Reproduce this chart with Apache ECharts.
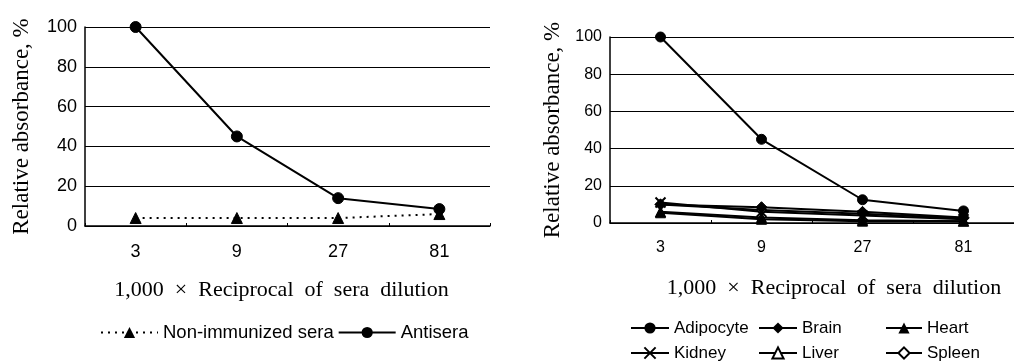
<!DOCTYPE html>
<html><head><meta charset="utf-8">
<script src="https://cdn.jsdelivr.net/npm/echarts@6/dist/echarts.min.js"></script>
<style>html,body{margin:0;padding:0;background:#fff}#c{width:1014px;height:361px}</style>
</head><body><div id="c"></div>
<script>
// Data
const categories = ['3', '9', '27', '81'];
const nonImmunized = [4, 4, 4, 6];
const antisera = [100, 45, 14, 8.5];
const adipocyte = [100, 45, 12.5, 6.5];
const brain = [10, 8.5, 6, 3];
const heart = [5.5, 2, 1, 1];
const kidney = [11, 6, 4, 2];
const liver = [6, 3, 1.5, 1];
const spleen = [10, 7, 5, 2.5];
const yTitle = 'Relative absorbance, %';
const xTitle = '1,000  \u00d7  Reciprocal  of  sera  dilution';

const sans = 'Liberation Sans, Arial, sans-serif';
const serif = 'Liberation Serif, Times New Roman, serif';
const black = '#000';

function yAx(gi, fs, gap) {
  return {
    gridIndex: gi, type: 'value', min: 0, max: 100, interval: 20,
    name: yTitle, nameLocation: 'middle', nameGap: gap,
    nameTextStyle: {fontFamily: serif, fontSize: 23, color: black},
    axisLine: {show: true, lineStyle: {color: black, width: 1.5}},
    axisTick: {show: false},
    axisLabel: {color: black, fontSize: fs, fontFamily: sans, margin: 8},
    splitLine: {show: true, lineStyle: {color: black, width: 1}}
  };
}
function xAx(gi, fs, gap, pad) {
  return {
    gridIndex: gi, type: 'category', data: categories, boundaryGap: true,
    name: xTitle, nameLocation: 'middle', nameGap: gap,
    nameTextStyle: {fontFamily: serif, fontSize: 22, color: black, padding: pad},
    axisLine: {show: true, lineStyle: {color: black, width: 1.5}},
    axisTick: {show: true, inside: true, length: 3, lineStyle: {color: black}},
    axisLabel: {color: black, fontSize: fs, fontFamily: sans, margin: 17}
  };
}
function ser(name, data, gi, symbol, size, extra) {
  return Object.assign({
    name: name, type: 'line', data: data, xAxisIndex: gi, yAxisIndex: gi,
    symbol: symbol, symbolSize: size,
    lineStyle: {color: black, width: 2},
    itemStyle: {color: black, borderColor: black},
    emphasis: {disabled: true}
  }, extra || {});
}
function leg(names, left, top, w, gap) {
  return {data: names, left: left, top: top, padding: 0, itemWidth: w, itemHeight: 14, itemGap: gap || 3,
    textStyle: {fontFamily: sans, fontSize: 17, color: black, lineHeight: 18}};
}

const option = {
  animation: false,
  backgroundColor: '#fff',
  grid: [
    {left: 85, top: 27, width: 405, height: 199},
    {left: 610, top: 37, width: 412, height: 186}
  ],
  xAxis: [xAx(0, 18, 53, [0, 12, 0, 0]), xAx(1, 16, 54, [0, 0, 0, 44])],
  yAxis: [yAx(0, 18, 52), yAx(1, 16, 46)],
  legend: [
    Object.assign(leg(['Non-immunized sera', 'Antisera'], 100, 323, 57, 4), {textStyle: {fontFamily: sans, fontSize: 18.5, color: black, lineHeight: 18}}),
    leg(['Adipocyte'], 630, 319, 38),
    leg(['Kidney'], 630, 344, 38),
    leg(['Brain'], 758, 319, 38),
    leg(['Liver'], 758, 344, 38),
    leg(['Heart'], 885, 319, 36),
    leg(['Spleen'], 885, 344, 36)
  ],
  series: [
    ser('Non-immunized sera', nonImmunized, 0, 'triangle', 11, {lineStyle: {color: black, width: 2, type: [2, 5]}}),
    ser('Antisera', antisera, 0, 'circle', 11),
    ser('Liver', liver, 1, 'triangle', 9, {itemStyle: {color: '#fff', borderColor: black, borderWidth: 1.5}}),
    ser('Heart', heart, 1, 'triangle', 10),
    ser('Spleen', spleen, 1, 'emptyDiamond', 9, {itemStyle: {color: black, borderColor: black, borderWidth: 1.5}}),
    ser('Brain', brain, 1, 'diamond', 11),
    ser('Kidney', kidney, 1, 'path://M0,0L10,10M10,0L0,10', 10, {itemStyle: {color: black, borderColor: black, borderWidth: 2}}),
    ser('Adipocyte', adipocyte, 1, 'circle', 10)
  ]
};
const chart = echarts.init(document.getElementById('c'), null, {renderer: 'canvas'});
chart.setOption(option);
</script></body></html>
